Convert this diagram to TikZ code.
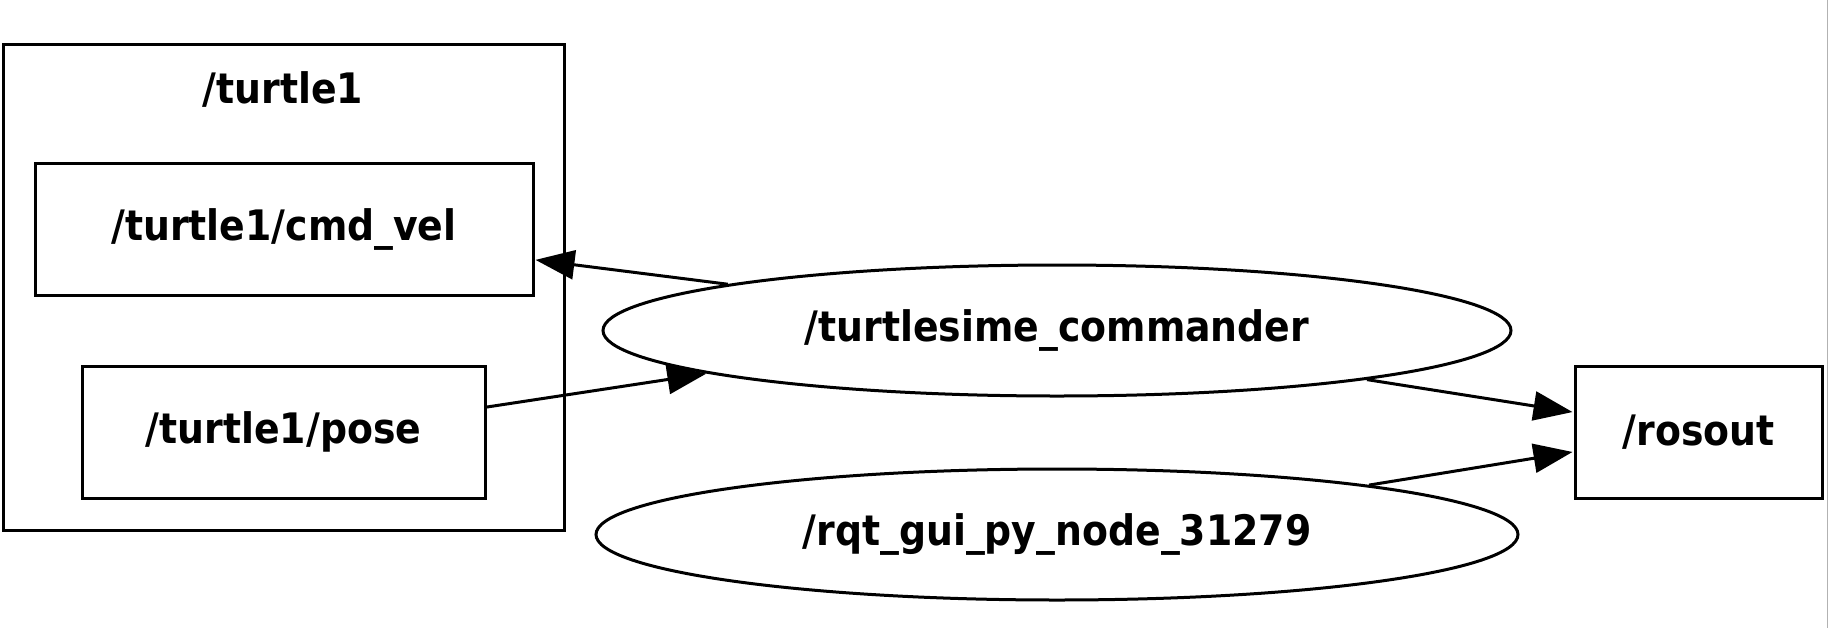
\documentclass[tikz,border=0pt]{standalone}
\usepackage{fontspec}
\setmainfont{DejaVu Sans Condensed}
\usetikzlibrary{shapes.geometric,arrows.meta}

\tikzset{
    topicbox/.style={draw, line width=1.5pt, rectangle, inner sep=0pt},
    nodeoval/.style={draw, line width=1.5pt, ellipse, inner sep=0pt},
    link/.style={line width=1.5pt, -{Triangle[length=19.5pt,width=14.5pt]}, shorten >=0.5pt},
}

\begin{document}
\begin{tikzpicture}[x=0.5pt, y=-0.5pt, font=\fontsize{21}{25}\selectfont\bfseries]
    \useasboundingbox (0,0) rectangle (1828,628);
    \draw[gray!60, line width=0.5pt] (1827,0) -- (1827,628);
%
    % the /turtle1 group
    \node[draw, line width=1.5pt, minimum width=280.5pt, minimum height=243pt, inner sep=0pt] (group) at (283.75,287) {};
    \node (grouplabel) at (283,89) {/turtle1};
    \node[topicbox, minimum width=249pt, minimum height=66pt] (vel) at (284,229) {/turtle1/cmd\_vel};
    \node[topicbox, minimum width=201.5pt, minimum height=66pt] (pose) at (283.5,432) {/turtle1/pose};
%
    \node[nodeoval, minimum width=454pt, minimum height=65.5pt] (cmdr) at (1057,330.5) {/turtlesime\_commander};
    \node[nodeoval, minimum width=461pt, minimum height=65.5pt] (rqt) at (1057,534.5) {/rqt\_gui\_py\_node\_31279};
    \node[topicbox, minimum width=123.5pt, minimum height=66pt] (rosout) at (1698.5,432) {/rosout};
%
    \draw[link] (cmdr.172.75) -- (vel.-7.3);
    \draw[link] (pose.7.3) -- (cmdr.187.5);
    \draw[link] (cmdr.-9) -- (rosout.171);
    \draw[link] (rqt.9) -- (rosout.189);
\end{tikzpicture}
\end{document}
